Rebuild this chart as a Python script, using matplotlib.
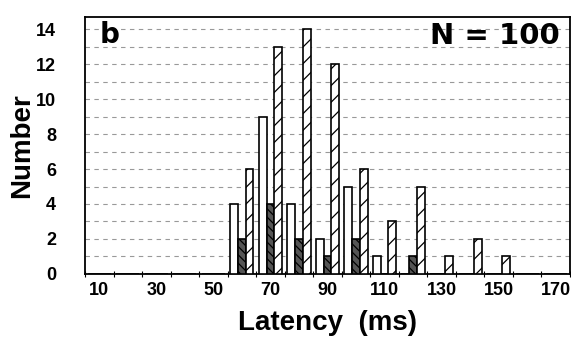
import numpy as np
import matplotlib.pyplot as plt

# latency bins (ms) and counts per group
latency = [10, 20, 30, 40, 50, 60, 70, 80, 90, 100, 110, 120, 130, 140, 150, 160, 170]
open_counts = [0, 0, 0, 0, 0, 4, 9, 4, 2, 5, 1, 0, 0, 0, 0, 0, 0]
dark_counts = [0, 0, 0, 0, 0, 2, 4, 2, 1, 2, 0, 1, 0, 0, 0, 0, 0]
hatched_counts = [0, 0, 0, 0, 0, 6, 13, 14, 12, 6, 3, 5, 1, 2, 1, 0, 0]
tick_labels = [str(v) if i % 2 == 0 else "" for i, v in enumerate(latency)]

plt.rcParams['hatch.linewidth'] = 0.9
fig = plt.figure(figsize=(5.71, 3.39), dpi=100)
ax = fig.add_axes([0.149, 0.192, 0.849, 0.758])

x = np.arange(len(latency))
w = 0.27
ax.bar(x - w, open_counts, w, color="white", edgecolor="black", linewidth=1.2, zorder=3)
ax.bar(x, dark_counts, w, color="#555555", edgecolor="black", hatch="\\\\\\\\", linewidth=1.2, zorder=3)
ax.bar(x + w, hatched_counts, w, color="white", edgecolor="black", hatch="//", linewidth=1.2, zorder=3)

ax.set_xlim(-0.5, len(latency) - 0.5)
ax.set_ylim(0, 14.7)

ax.set_yticks(range(0, 15, 2))
ax.set_yticks(range(0, 15), minor=True)
ax.yaxis.grid(True, which="both", color="#999999", linestyle=(0, (4, 4)), linewidth=0.8)
ax.set_axisbelow(True)
ax.tick_params(axis="y", which="both", length=0, pad=21)

# category labels at bin centres, tick marks at bin edges
ax.set_xticks(x)
ax.set_xticklabels(tick_labels)
ax.tick_params(axis="x", which="major", length=0, pad=6)
ax.set_xticks(np.arange(-0.5, len(latency), 1.0), minor=True)
ax.tick_params(axis="x", which="minor", length=4, direction="inout", width=0.8)

for lab in ax.get_xticklabels() + ax.get_yticklabels():
    lab.set_fontfamily(["Liberation Sans Narrow", "Liberation Sans", "DejaVu Sans"])
    lab.set_fontweight("bold")
    lab.set_fontsize(13)

for sp in ax.spines.values():
    sp.set_linewidth(1.3)

ax.set_xlabel("Latency  (ms)", fontsize=20, fontweight="bold", labelpad=8,
              family=["Liberation Sans", "DejaVu Sans"])
ax.set_ylabel("Number", fontsize=20, fontweight="bold",
              family=["Liberation Sans", "DejaVu Sans"])
ax.yaxis.set_label_coords(-0.104, 0.5)

ax.text(0.03, 0.93, "b", transform=ax.transAxes, fontsize=20, fontweight="bold",
        ha="left", va="center")
ax.text(0.98, 0.925, "N = 100", transform=ax.transAxes, fontsize=21, fontweight="bold",
        ha="right", va="center")

fig.savefig("out.png", dpi=100)
